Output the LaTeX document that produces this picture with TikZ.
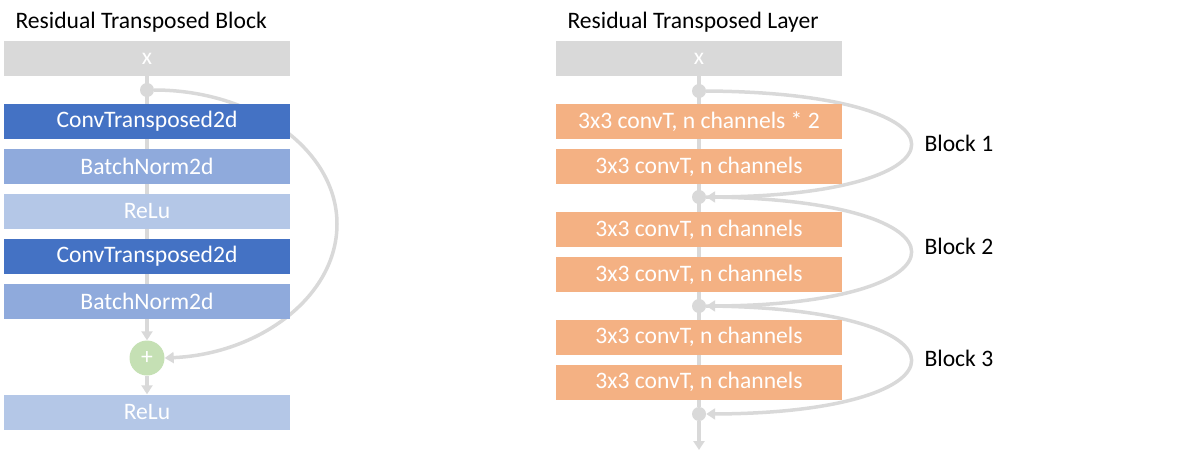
\documentclass[tikz,border=0pt]{standalone}
\usepackage{fontspec}
\setmainfont{Carlito}
\usetikzlibrary{arrows.meta,backgrounds}
\definecolor{xgray}{HTML}{D9D9D9}
\definecolor{linegray}{HTML}{D9D9D9}
\definecolor{convblue}{HTML}{4472C4}
\definecolor{normblue}{HTML}{8FAADC}
\definecolor{relublue}{HTML}{B4C7E7}
\definecolor{convorange}{HTML}{F4B183}
\definecolor{plusgreen}{HTML}{C5E0B4}
\begin{document}
\begin{tikzpicture}[x=1pt,y=-1pt,font=\fontsize{23.6}{28}\selectfont,
                    box/.style={minimum width=286pt,minimum height=35pt,inner sep=0pt,text=white},
                    dot/.style={circle,fill=linegray,minimum size=14pt,inner sep=0pt},
                    link/.style={draw=linegray,line width=3.5pt},
                    tip/.style={-{Triangle[width=11pt,length=9pt]}}]
\useasboundingbox (0,0) rectangle (1192,463);

% left: block
\node[anchor=west] (ltitle) at (12,22) {Residual Transposed Block};
\node[box,fill=xgray] (lx) at (147,58.5) {x};
\node[dot] (ld) at (147,90) {};
\node[box,fill=convblue] (lconv1) at (147,121.5) {ConvTransposed2d};
\node[box,fill=normblue] (lbn1) at (147,166.5) {BatchNorm2d};
\node[box,fill=relublue] (lrelu1) at (147,211.5) {ReLu};
\node[box,fill=convblue] (lconv2) at (147,256.5) {ConvTransposed2d};
\node[box,fill=normblue] (lbn2) at (147,301.5) {BatchNorm2d};
\node[circle,fill=plusgreen,minimum size=35pt,inner sep=0pt,text=white] (lplus) at (147,358) {+};
\node[box,fill=relublue] (lrelu2) at (147,412) {ReLu};
\coordinate (lturn) at (337,224);

\begin{scope}[on background layer]
\draw[link] (lx.south) -- (lbn2.south);
\draw[link,tip] (ld.east) .. controls +(100,0) and +(0,-74) .. (lturn)
                .. controls +(0,73) and +(94,-4) .. (lplus.east);
\end{scope}
\draw[link,tip] (lbn2.south) -- (lplus.north);
\draw[link,tip] (lplus.south) -- (lrelu2.north);

% right: layer
\node[anchor=west] (rtitle) at (564,22) {Residual Transposed Layer};
\node[box,fill=xgray] (rx) at (699,58.5) {x};
\node[dot] (r1) at (699,91) {};
\node[box,fill=convorange] (rc1) at (699,121.5) {3x3 convT, n channels * 2};
\node[box,fill=convorange] (rc2) at (699,166.5) {3x3 convT, n channels};
\node[dot] (r2) at (699,197) {};
\node[box,fill=convorange] (rc3) at (699,229.5) {3x3 convT, n channels};
\node[box,fill=convorange] (rc4) at (699,274.5) {3x3 convT, n channels};
\node[dot] (r3) at (699,306) {};
\node[box,fill=convorange] (rc5) at (699,337) {3x3 convT, n channels};
\node[box,fill=convorange] (rc6) at (699,382) {3x3 convT, n channels};
\node[dot] (r4) at (699,414) {};
\coordinate (rend) at (699,450);

\node[anchor=west] (b1) at (921,143) {Block 1};
\node[anchor=west] (b2) at (921,246) {Block 2};
\node[anchor=west] (b3) at (921,358) {Block 3};

\begin{scope}[on background layer]
\draw[link] (rx.south) -- (r4);
\foreach \a/\b in {r1/r2,r2/r3,r3/r4}
  \draw[link,tip] (\a.east) .. controls +(276,2) and +(269,-1) .. (\b.east);
\end{scope}
\draw[link,tip] (r4) -- (rend);
\end{tikzpicture}
\end{document}
